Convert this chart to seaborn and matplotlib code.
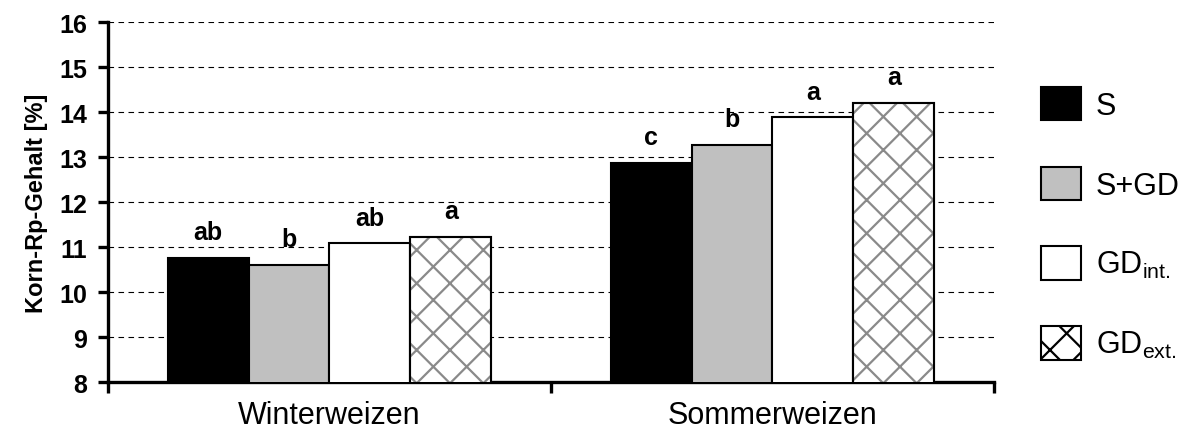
import seaborn as sns
import matplotlib.pyplot as plt
import pandas as pd
from matplotlib.patches import Patch, Rectangle

# data
crops = ['Winterweizen', 'Sommerweizen']
treatments = ['S', 'S+GD', 'GDint', 'GDext']
legend_labels = ['S', 'S+GD', r'GD$_{\mathregular{int.}}$', r'GD$_{\mathregular{ext.}}$']
winter = [10.75, 10.60, 11.08, 11.22]
summer = [12.87, 13.26, 13.88, 14.20]
winter_letters = ['ab', 'b', 'ab', 'a']
summer_letters = ['c', 'b', 'a', 'a']

df = pd.DataFrame({
    'crop': [crops[0]] * 4 + [crops[1]] * 4,
    'treat': treatments * 2,
    'value': winter + summer,
})

sns.set_style('white')
plt.rcParams['font.family'] = ['Liberation Sans', 'DejaVu Sans']
plt.rcParams['hatch.linewidth'] = 1.6
for k in ['text.color', 'axes.labelcolor', 'xtick.color', 'ytick.color']:
    plt.rcParams[k] = 'black'

fig = plt.figure(figsize=(11.89, 4.35), dpi=100)
ax = fig.add_axes([0.0908, 0.1195, 0.7452, 0.8275])

sns.barplot(data=df, x='crop', y='value', hue='treat', hue_order=treatments,
            width=0.73, gap=0, ax=ax, legend=False, zorder=3)

faces = ['black', '#c0c0c0', 'white', 'white']
hatches = [None, None, None, 'x']
for cont, fc, h in zip(ax.containers, faces, hatches):
    for bar in cont:
        bar.set_facecolor(fc)
        bar.set_edgecolor('black')
        bar.set_linewidth(1.5)
        if h:
            # gray hatch lines, black outline drawn on top from the bar itself
            bar.set_hatch(h)
            bar.set_edgecolor('#8a8a8a')
            ax.add_patch(Rectangle(bar.get_xy(), bar.get_width(), bar.get_height(),
                                   fill=False, edgecolor='black', linewidth=1.5, zorder=4))

for i, cont in enumerate(ax.containers):
    ax.bar_label(cont, labels=[winter_letters[i], summer_letters[i]], padding=10,
                 fontsize=18, fontweight='bold')

ax.set_ylim(8, 16)
ax.set_xlim(-0.5, 1.5)
ax.set_yticks(range(8, 17))
ax.yaxis.grid(True, linestyle=(0, (5, 4)), color='black', linewidth=0.8, zorder=0)
ax.set_axisbelow(True)

for s in ['top', 'right']:
    ax.spines[s].set_visible(False)
for s in ['left', 'bottom']:
    ax.spines[s].set_linewidth(2.4)
    ax.spines[s].set_color('black')

ax.tick_params(axis='y', direction='out', length=7, width=2.4, left=True,
               labelsize=18, pad=8)
for lab in ax.get_yticklabels():
    lab.set_fontweight('bold')
ax.set_xticks([-0.5, 0.5, 1.5], minor=True)
ax.tick_params(axis='x', which='minor', direction='out', length=8, width=2.4, bottom=True)
ax.tick_params(axis='x', which='major', length=0, labelsize=22, pad=13)
ax.set_xlabel('')
ax.set_ylabel('Korn-Rp-Gehalt [%]', fontsize=17, fontweight='bold', labelpad=8)

handles = []
for fc, h in zip(faces, hatches):
    handles.append(Patch(facecolor=fc, edgecolor='black', hatch=h, linewidth=1.5))
ax.legend(handles, legend_labels, loc='center left', bbox_to_anchor=(1.022, 0.44),
          frameon=False, fontsize=22, handlelength=1.3, handleheight=1.3,
          labelspacing=1.5, handletextpad=0.5)

fig.savefig('out.png', dpi=100)
